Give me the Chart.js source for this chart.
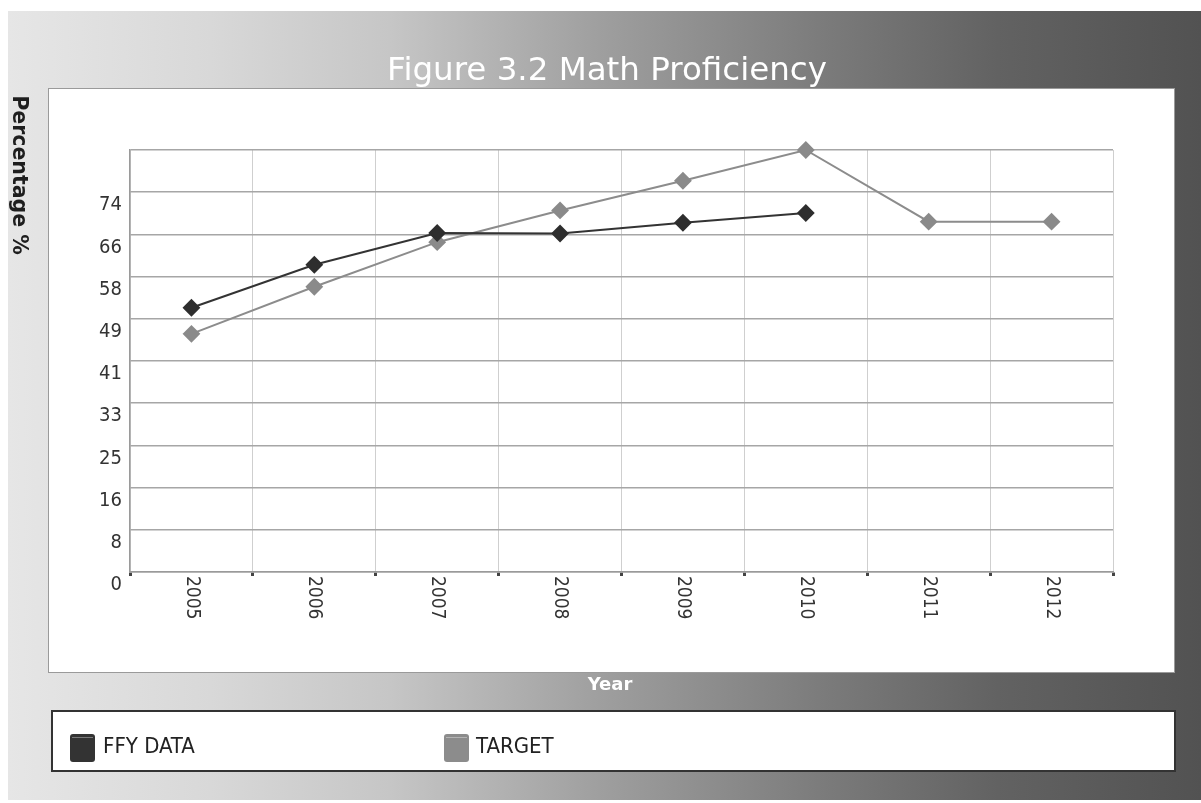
<!DOCTYPE html>
<html>
<head>
<meta charset="utf-8">
<script src="https://cdn.jsdelivr.net/npm/chart.js@4.4.0/dist/chart.umd.min.js"></script>
<style>
  html, body { margin: 0; padding: 0; background: #ffffff; }
  #wrap { position: relative; width: 1201px; height: 803px; }
</style>
</head>
<body>
<div id="wrap"><canvas id="c"></canvas></div>
<script>
// ---- data ----
const years = ['2005', '2006', '2007', '2008', '2009', '2010', '2011', '2012'];
const ffyData = [51.6, 60.0, 66.2, 66.1, 68.2, 70.1, null, null];
const targetData = [46.5, 55.7, 64.4, 70.6, 76.4, 82.4, 68.4, 68.4];
const yTicks = [0, 8.24, 16.48, 24.72, 32.96, 41.2, 49.44, 57.68, 65.92, 74.16, 82.4];
const yTickLabels = ['0', '8', '16', '25', '33', '41', '49', '58', '66', '74', ''];
const chartTitle = 'Figure 3.2 Math Proficiency';
const yTitle = 'Percentage %';
const xTitle = 'Year';

const FONT = '"DejaVu Sans Condensed", "DejaVu Sans", sans-serif';
const FONT_WIDE = '"DejaVu Sans", sans-serif';

const decor = {
  id: 'decor',
  beforeDraw(chart) {
    const ctx = chart.ctx;
    ctx.save();
    // gray gradient backdrop
    const g = ctx.createLinearGradient(8, 0, 1201, 0);
    g.addColorStop(0, '#e6e6e6');
    g.addColorStop(0.17, '#d8d8d8');
    g.addColorStop(0.32, '#c6c6c6');
    g.addColorStop(0.5, '#9e9e9e');
    g.addColorStop(0.69, '#7a7a7a');
    g.addColorStop(0.83, '#626262');
    g.addColorStop(1, '#525252');
    ctx.fillStyle = g;
    ctx.fillRect(8, 11, 1193, 789);
    // white plot panel
    ctx.fillStyle = '#ffffff';
    ctx.fillRect(48, 88, 1126, 584);
    ctx.strokeStyle = '#9a9a9a';
    ctx.lineWidth = 1;
    ctx.strokeRect(48.5, 88.5, 1126, 584);
    // legend box
    ctx.fillStyle = '#ffffff';
    ctx.fillRect(52, 711, 1123, 60);
    ctx.strokeStyle = '#333333';
    ctx.lineWidth = 2;
    ctx.strokeRect(52, 711, 1123, 60);
    ctx.restore();
  },
  afterDraw(chart) {
    const ctx = chart.ctx;
    const xs = chart.scales.x;
    ctx.save();
    // title
    ctx.fillStyle = '#ffffff';
    ctx.font = '32.5px ' + FONT_WIDE;
    ctx.textAlign = 'center';
    ctx.textBaseline = 'alphabetic';
    ctx.fillText(chartTitle, 607, 80);
    // x axis title
    ctx.font = 'bold 18px ' + FONT_WIDE;
    ctx.textBaseline = 'middle';
    ctx.fillText(xTitle, 610, 685);
    // y axis title (rotated clockwise)
    ctx.save();
    ctx.translate(18, 175);
    ctx.rotate(Math.PI / 2);
    ctx.fillStyle = '#1e1e1e';
    ctx.font = 'bold 20.5px ' + FONT_WIDE;
    ctx.textAlign = 'center';
    ctx.textBaseline = 'middle';
    ctx.fillText(yTitle, 0, 0);
    ctx.restore();
    // x tick labels (rotated clockwise)
    ctx.fillStyle = '#333333';
    ctx.font = '19px ' + FONT;
    years.forEach((lab, i) => {
      const px = xs.getPixelForTick(i);
      ctx.save();
      ctx.translate(px, 576);
      ctx.rotate(Math.PI / 2);
      ctx.textAlign = 'left';
      ctx.textBaseline = 'middle';
      ctx.fillText(lab, 0, 0);
      ctx.restore();
    });
    // legend
    const items = [[70, 103], [444, 476]];
    chart.data.datasets.forEach((ds, i) => {
      const [sx, tx] = items[i];
      ctx.fillStyle = ds.borderColor;
      ctx.beginPath();
      ctx.roundRect(sx, 734, 25, 28, 3);
      ctx.fill();
      ctx.strokeStyle = 'rgba(255,255,255,0.35)';
      ctx.lineWidth = 1;
      ctx.beginPath();
      ctx.moveTo(sx + 2, 737.5);
      ctx.lineTo(sx + 23, 737.5);
      ctx.stroke();
      ctx.fillStyle = '#222222';
      ctx.font = '22px ' + FONT;
      ctx.textAlign = 'left';
      ctx.textBaseline = 'middle';
      ctx.fillText(ds.label, tx, 747);
    });
    ctx.restore();
  }
};

new Chart(document.getElementById('c'), {
  type: 'line',
  data: {
    labels: years,
    datasets: [
      {
        label: 'FFY DATA',
        data: ffyData,
        borderColor: '#333333',
        backgroundColor: '#2e2e2e',
        pointBackgroundColor: '#2e2e2e',
        pointBorderColor: '#2e2e2e',
        borderWidth: 2,
        pointStyle: 'rectRot',
        pointRadius: 7.5,
        pointHoverRadius: 7.5,
        tension: 0,
        spanGaps: false,
        clip: false
      },
      {
        label: 'TARGET',
        data: targetData,
        borderColor: '#8c8c8c',
        backgroundColor: '#8c8c8c',
        pointBackgroundColor: '#8a8a8a',
        pointBorderColor: '#8a8a8a',
        borderWidth: 2,
        pointStyle: 'rectRot',
        pointRadius: 7.5,
        pointHoverRadius: 7.5,
        tension: 0,
        clip: false
      }
    ]
  },
  options: {
    responsive: true,
    maintainAspectRatio: false,
    animation: false,
    events: [],
    layout: { padding: { left: 70, right: 88, top: 150, bottom: 201 } },
    plugins: {
      legend: { display: false },
      title: { display: false },
      tooltip: { enabled: false }
    },
    scales: {
      x: {
        type: 'category',
        offset: true,
        grid: {
          offset: true,
          color: '#cfcfcf',
          lineWidth: 1,
          drawTicks: true,
          tickLength: 4,
          tickColor: '#444444',
          tickWidth: 3
        },
        border: { display: true, color: '#9a9a9a', width: 1.5 },
        ticks: { display: false },
        afterFit(s) { s.height = 30; }
      },
      y: {
        type: 'linear',
        min: 0,
        max: 82.4,
        grid: { color: '#a6a6a6', lineWidth: 1.5, drawTicks: false },
        border: { display: true, color: '#9a9a9a', width: 1.5 },
        afterBuildTicks(s) { s.ticks = yTicks.map(v => ({ value: v })); },
        ticks: {
          color: '#333333',
          font: { family: FONT, size: 20 },
          padding: 8,
          labelOffset: 13,
          callback(value, index) { return yTickLabels[index]; }
        },
        afterFit(s) { s.width = 60; }
      }
    }
  },
  plugins: [decor]
});
</script>
</body>
</html>
